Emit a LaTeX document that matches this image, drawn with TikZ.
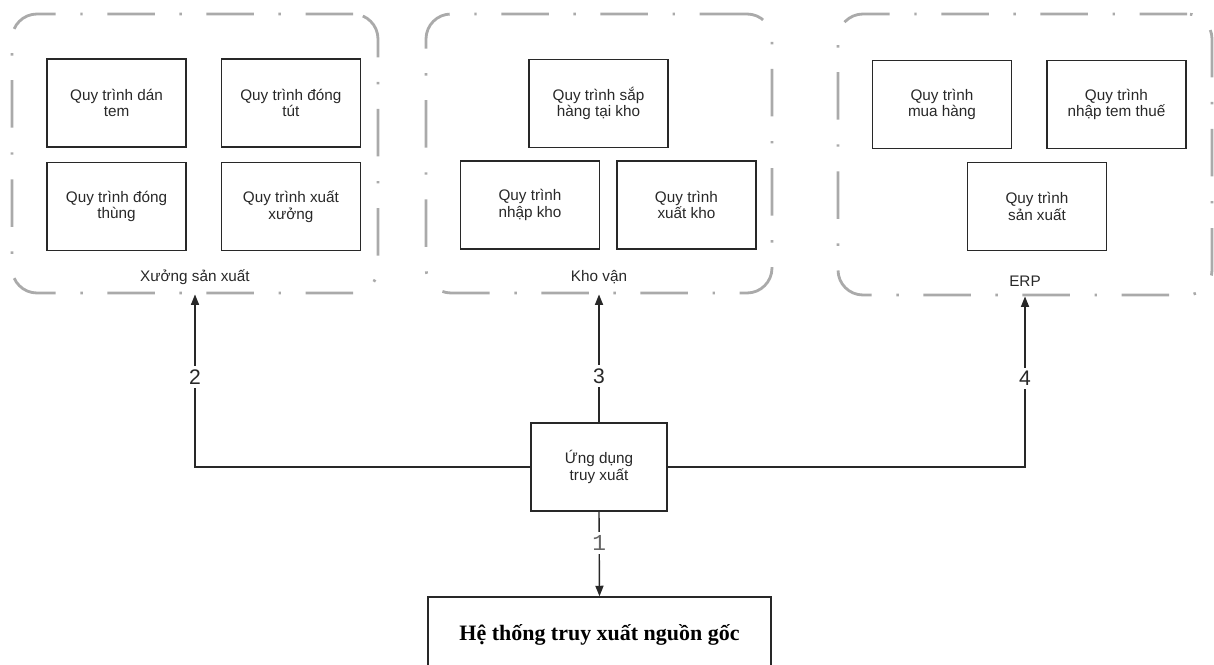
\documentclass[tikz,border=0pt]{standalone}
\usepackage{fontspec}
\setmainfont{Liberation Sans}
\newfontfamily\titlefont{Liberation Serif}
\newfontfamily\digitfont{Liberation Mono}
\usepackage{tikz}
\usetikzlibrary{arrows.meta, positioning}
\definecolor{frame}{RGB}{170, 170, 170}
\definecolor{ink}{RGB}{40, 40, 40}

\begin{document}
\begin{tikzpicture}[
    node distance = 0.28cm and 0.68cm,
    proc/.style = {rectangle, draw=ink, line width=0.8pt, text=ink,
                   minimum width=2.78cm, minimum height=1.76cm, align=center,
                   font=\fontsize{8.7}{9.6}\selectfont},
    group/.style = {rectangle, rounded corners=0.5cm, draw=frame, line width=1.6pt,
                    dash pattern=on 27pt off 14pt on 1.4pt off 14pt},
    glabel/.style = {font=\fontsize{8.7}{9.6}\selectfont, text=ink},
    arrow/.style = {-{Triangle[length=6pt, width=4.6pt]}, line width=0.8pt, draw=ink},
    num/.style = {fill=white, inner sep=2pt, text=ink,
                  font=\fontsize{12}{14}\selectfont}
  ]
    \useasboundingbox (0,0) rectangle (24.28,-13.28);

    % three process groups
    \node[group, minimum width=7.32cm, minimum height=5.58cm] (xuong) at (3.90,-3.07) {};
    \node[group, minimum width=6.92cm, minimum height=5.58cm] (kho) at (11.98,-3.07) {};
    \node[group, minimum width=7.48cm, minimum height=5.62cm] (erp) at (20.50,-3.09) {};

    \node[glabel, above=0.08cm of xuong.south] {Xưởng sản xuất};
    \node[glabel, above=0.08cm of kho.south] {Kho vận};
    \node[glabel, above=0.08cm of erp.south] {ERP};

    % Xuong san xuat
    \node[proc] (danTem) at (2.33,-2.06) {Quy trình dán\\tem};
    \node[proc, right=of danTem] (dongTut) {Quy trình đóng\\tút};
    \node[proc, below=of danTem] (dongThung) {Quy trình đóng\\thùng};
    \node[proc, below=of dongTut] (xuatXuong) {Quy trình xuất\\xưởng};

    % Kho van
    \node[proc] (sapHang) at (11.97,-2.07) {Quy trình sắp\\hàng tại kho};
    \node[proc] (nhapKho) at (10.60,-4.10) {Quy trình\\nhập kho};
    \node[proc, right=0.32cm of nhapKho] (xuatKho) {Quy trình\\xuất kho};

    % ERP
    \node[proc] (muaHang) at (18.84,-2.09) {Quy trình\\mua hàng};
    \node[proc, right=of muaHang] (temThue) {Quy trình\\nhập tem thuế};
    \node[proc] (sanXuat) at (20.74,-4.13) {Quy trình\\sản xuất};

    % application and system
    \node[proc, minimum width=2.72cm] (app) at (11.98,-9.34) {Ứng dụng\\truy xuất};
    \node[proc, minimum width=6.86cm, minimum height=1.52cm, text=black,
          font=\titlefont\bfseries\fontsize{12.5}{14}\selectfont]
      (heThong) at (11.99,-12.70) {Hệ thống truy xuất nguồn gốc};

    \draw[arrow] (app.south) -- node[num, pos=0.37, text=black!60,
      font=\digitfont\fontsize{13}{15}\selectfont] {1} (heThong.north);
    \draw[arrow] (app.west) -| node[num, pos=0.76] {2} (xuong.south);
    \draw[arrow] (app.north) -- node[num, pos=0.36] {3} (app.north |- kho.south);
    \draw[arrow] (app.east) -| node[num, pos=0.76] {4} (erp.south);
  \end{tikzpicture}
\end{document}
